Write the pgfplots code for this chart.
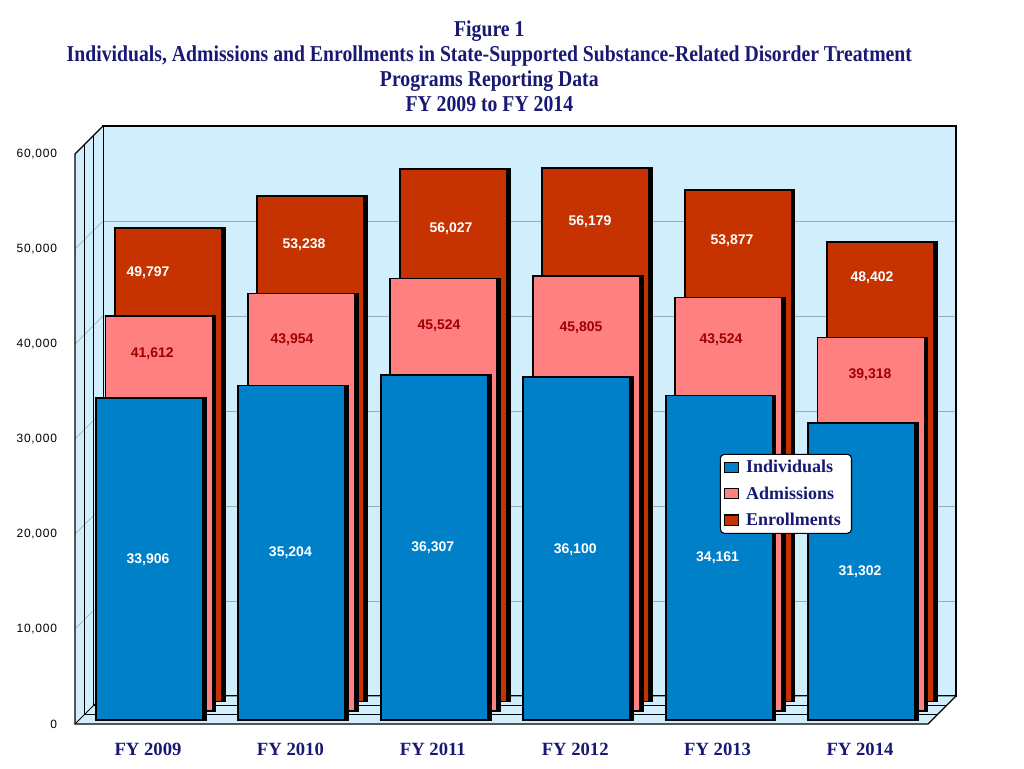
\documentclass[border=0pt]{standalone}
\usepackage{pgfplots}
\pgfplotsset{compat=1.18}
\usepackage{fontspec}
\setmainfont{Liberation Serif}
\newfontfamily\arial{Liberation Sans}
\newfontfamily\ticksfont[LetterSpace=6]{Liberation Sans}
\newfontfamily\titlefont[FakeStretch=0.87]{Liberation Serif}

\definecolor{indblue}{RGB}{0,128,200}
\definecolor{admpink}{RGB}{255,128,128}
\definecolor{enrred}{RGB}{198,50,0}
\definecolor{wall}{RGB}{208,238,252}
\definecolor{gridc}{RGB}{150,170,185}
\definecolor{navy}{RGB}{25,25,115}
\definecolor{lblred}{RGB}{160,0,0}

\pgfplotsset{
  baraxis/.style={anchor=south west, scale only axis,
    width=639.75pt, height=427.5pt,
    xmin=-0.5126, xmax=5.4776, ymin=0, ymax=60000,
    hide axis, clip=false},
  shadowbar/.style={ybar, bar width=80.25pt, bar shift=2.2pt,
    fill=black, draw=black, line width=1.4pt},
  mainbar/.style={ybar, bar width=80.25pt, bar shift=0pt,
    fill=#1, draw=black, line width=1.4pt},
  vlabels/.style={forget plot, draw=none, mark=none, only marks,
    nodes near coords, point meta=explicit symbolic,
    nodes near coords style={anchor=center, text=#1,
      font=\arial\bfseries\fontsize{10.5}{12}\selectfont}},
}

\begin{document}
\begin{tikzpicture}
\useasboundingbox (0,0) rectangle (768pt,576pt);

% title
\node[align=center, text=navy, font=\titlefont\bfseries\fontsize{17}{18.75}\selectfont]
  at (367pt,526.6pt) {Figure 1\\Individuals, Admissions and Enrollments in State-Supported Substance-Related Disorder Treatment\\Programs Reporting Data\\FY 2009 to FY 2014};

% back wall with gridlines
\begin{axis}[at={(77.25pt,54pt)}, anchor=south west, scale only axis,
  width=639.75pt, height=427.5pt,
  xmin=0, xmax=1, ymin=0, ymax=60000, scaled y ticks=false,
  xtick=\empty, ytick={10000,20000,30000,40000,50000}, yticklabels={},
  ymajorgrids, grid style={gridc, line width=0.4pt},
  major tick length=0pt,
  axis background/.style={fill=wall},
  axis line style={black, line width=0.9pt}]
\end{axis}

% left wall and floor
\begin{scope}[x=0.75pt, y=-0.75pt, yshift=576pt]
  \fill[wall] (75,724) -- (928,724) -- (956,696) -- (103,696) -- cycle;
  \fill[wall] (75,724) -- (75,154) -- (103,126) -- (103,696) -- cycle;
  \foreach \j in {1,...,5}
    \draw[gridc, line width=0.4pt] (75,{724-95*\j}) -- (103,{696-95*\j});
  \foreach \k in {1,2}
    \draw[black, line width=0.6pt] ({75+9.33*\k},{154-9.33*\k}) -- ({75+9.33*\k},{724-9.33*\k}) -- ({928+9.33*\k},{724-9.33*\k});
  \draw[black, line width=0.7pt] (75,724) -- (103,696) -- (956,696);
  \draw[black, line width=0.7pt] (103,696) -- (103,126);
  \draw[black, line width=0.9pt] (75,154) -- (103,126) -- (956,126) -- (956,696) -- (928,724) -- (75,724) -- cycle;
\end{scope}

% Enrollments (back row)
\begin{axis}[baraxis, at={(71.625pt,49.875pt)}]
\addplot[shadowbar] coordinates {(0,49797) (1,53238) (2,56027) (3,56179) (4,53877) (5,48402)};
\addplot[mainbar=enrred] coordinates {(0,49797) (1,53238) (2,56027) (3,56179) (4,53877) (5,48402)};
\end{axis}

% Admissions (middle row)
\begin{axis}[baraxis, at={(64.5pt,42.75pt)}]
\addplot[shadowbar] coordinates {(0,41612) (1,43954) (2,45524) (3,45805) (4,43524) (5,39318)};
\addplot[mainbar=admpink] coordinates {(0,41612) (1,43954) (2,45524) (3,45805) (4,43524) (5,39318)};
\end{axis}

% Individuals (front row)
\begin{axis}[baraxis, at={(57.375pt,36pt)}]
\addplot[shadowbar] coordinates {(0,33906) (1,35204) (2,36307) (3,36100) (4,34161) (5,31302)};
\addplot[mainbar=indblue] coordinates {(0,33906) (1,35204) (2,36307) (3,36100) (4,34161) (5,31302)};
\end{axis}

% front frame: ticks, value labels, legend
\begin{axis}[at={(56.25pt,33pt)}, anchor=south west, scale only axis,
  width=639.75pt, height=427.5pt,
  xmin=-0.5126, xmax=5.4776, ymin=0, ymax=60000, clip=false,
  axis line style={draw=none}, major tick length=0pt,
  xtick={0,...,5},
  xticklabels={FY 2009,FY 2010,FY 2011,FY 2012,FY 2013,FY 2014},
  xticklabel style={text=navy, font=\bfseries\fontsize{14}{15}\selectfont, yshift=-11pt},
  ytick={0,10000,...,60000}, scaled y ticks=false,
  yticklabel style={/pgf/number format/1000 sep={,},
    /pgf/number format/assume math mode=true,
    font=\ticksfont\fontsize{9}{10}\selectfont, xshift=-10pt},
  legend image code/.code={\draw[#1, sharp corners] (1.5pt,-3.8pt) rectangle (12pt,3.8pt);},
  legend style={at={(0.756,0.474)}, anchor=north west, fill=white,
    draw=black, line width=0.8pt, rounded corners=3pt,
    text=navy, font=\bfseries\fontsize{13.5}{15}\selectfont,
    inner xsep=3pt, inner ysep=2.5pt, row sep=4.8pt,
    nodes={inner xsep=5pt}},
  legend cell align=left]
\addlegendimage{fill=indblue, draw=black, line width=0.8pt}
\addlegendimage{fill=admpink, draw=black, line width=0.8pt}
\addlegendimage{fill=enrred, draw=black, line width=0.8pt}
\legend{Individuals,Admissions,Enrollments}

\addplot[vlabels=white] coordinates {
  (0,17263) [33,906] (1,18000) [35,204] (2,18526) [36,307]
  (3,18316) [36,100] (4,17474) [34,161] (5,16000) [31,302]};
\addplot[vlabels=lblred] coordinates {
  (0.03,38947) [41,612] (1.011,40421) [43,954] (2.044,41895) [45,524]
  (3.041,41684) [45,805] (4.024,40421) [43,524] (5.07,36737) [39,318]};
\addplot[vlabels=white] coordinates {
  (0,47474) [49,797] (1.096,50421) [53,238] (2.128,52105) [56,027]
  (3.104,52842) [56,179] (4.101,50842) [53,877] (5.084,46947) [48,402]};
\end{axis}
\end{tikzpicture}
\end{document}
